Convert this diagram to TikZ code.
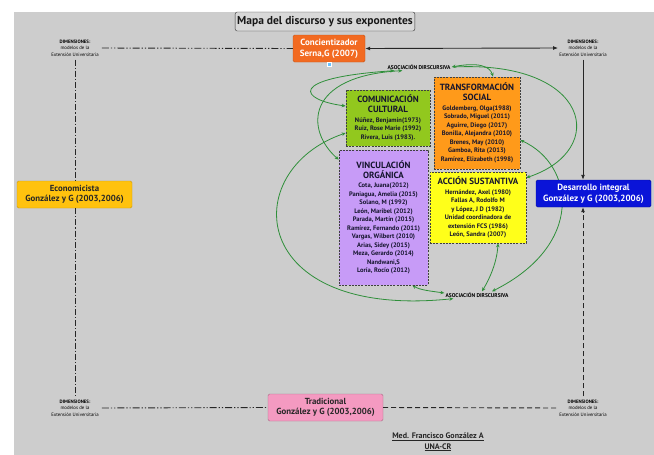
\documentclass[tikz,border=0pt]{standalone}
\usepackage{fontspec}
\setmainfont{PT Sans}
\usetikzlibrary{arrows.meta}
\pgfdeclarelayer{bg}
\pgfsetlayers{bg,main}
\definecolor{bggray}{HTML}{CDCDCD}
\definecolor{titlegray}{HTML}{D8D8D8}
\definecolor{concor}{HTML}{F26A21}
\definecolor{ecoy}{HTML}{FFC20E}
\definecolor{desb}{HTML}{0A14D8}
\definecolor{tradp}{HTML}{F49AC1}
\definecolor{comg}{HTML}{92C81E}
\definecolor{traor}{HTML}{FF9A1A}
\definecolor{vinp}{HTML}{C79BF7}
\definecolor{accy}{HTML}{FFFF1A}
\definecolor{garr}{HTML}{2F8F3A}
\definecolor{navy}{HTML}{15152E}
\newcommand\hdr[1]{{\fontsize{9}{10.5}\selectfont #1}}
\begin{document}
\begin{tikzpicture}[x=1pt,y=-1pt,
  dimlabel/.style={align=center,inner sep=0pt,font=\fontsize{4.8}{6.6}\selectfont,text=black},
  bigbox/.style={minimum width=115pt,minimum height=27pt,inner sep=1pt,align=center,rounded corners=1.5pt,line width=0.4pt,font=\bfseries\fontsize{8.8}{10.5}\selectfont},
  cbox/.style={draw=black!75,dash pattern=on 2pt off 1.2pt,line width=0.6pt,align=center,inner sep=1.5pt,text=navy,font=\bfseries\fontsize{6.5}{8.5}\selectfont},
  blk/.style={line width=0.9pt,draw=black!85},
  dashdotdot/.style={blk,dash pattern=on 7pt off 2pt on 1.2pt off 2pt on 1.2pt off 2pt},
  dashdot/.style={blk,dash pattern=on 6pt off 2pt on 1.2pt off 2pt},
  dsh/.style={blk,dash pattern=on 5pt off 3pt},
  garrow/.style={draw=garr,line width=0.8pt,{Stealth[length=4pt,width=3.5pt]}-{Stealth[length=4pt,width=3.5pt]}},
  garrowone/.style={draw=garr,line width=0.8pt,-{Stealth[length=4pt,width=3.5pt]}},
  asoc/.style={inner sep=1pt,font=\bfseries\fontsize{5.5}{6}\selectfont,text=black},
  btip/.style={-{Latex[length=5pt,width=4pt]}},
  bbtip/.style={{Latex[length=5pt,width=4pt]}-{Latex[length=5pt,width=4pt]}}
]
\useasboundingbox (0,0) rectangle (654,455);
\begin{pgfonlayer}{bg}
\fill[bggray] (14,12) rectangle (654,455);
\end{pgfonlayer}

% title
\node[draw=black!80,fill=titlegray,rounded corners=2pt,minimum width=178pt,minimum height=19pt,inner sep=2pt,font=\bfseries\fontsize{11.5}{14}\selectfont,text=black!90] (title) at (325,21.5) {Mapa del discurso y sus exponentes};

% main model boxes
\node[bigbox,fill=concor,draw=concor!80!black,text=white,minimum width=72pt,font=\bfseries\fontsize{9}{11}\selectfont] (conc) at (329,48.5) {Concientizador\\Serna,G (2007)};
\fill[blue!40!cyan!60,draw=white,line width=0.3pt] (327.5,62) rectangle (331.5,66);
\node[bigbox,fill=ecoy,draw=ecoy!80!black,text=black!85] (eco) at (74.5,194.5) {Economicista\\González y G (2003,2006)};
\node[bigbox,fill=desb,draw=desb!70!black,text=white,font=\bfseries\fontsize{9}{11}\selectfont] (des) at (593.5,193.5) {Desarrollo integral\\González y G (2003,2006)};
\node[bigbox,fill=tradp,draw=tradp!70!black,text=black!85] (trad) at (325.5,407.5) {Tradicional\\González y G (2003,2006)};

% dimension labels
\node[dimlabel] (tl) at (75,48) {\textbf{DIMENSIONES:}\\modelos de la\\Extensión Universitaria};
\node[dimlabel] (tr) at (583,48) {\textbf{DIMENSIONES:}\\modelos de la\\Extensión Universitaria};
\node[dimlabel] (bl) at (75,408) {\textbf{DIMENSIONES:}\\modelos de la\\Extensión Universitaria};
\node[dimlabel] (br) at (583,408) {\textbf{DIMENSIONES:}\\modelos de la\\Extensión Universitaria};

% centre boxes
\node[cbox,fill=comg,minimum width=84pt,minimum height=56pt] (comu) at (388,118) {\hdr{COMUNICACIÓN}\\[1.5pt]\hdr{CULTURAL}\\[1pt]Núñez, Benjamín(1973)\\Ruiz, Rose Marie (1992)\\Rivera, Luis (1983).};
\node[cbox,fill=traor,minimum width=86pt,minimum height=92pt] (transf) at (477,123) {\hdr{TRANSFORMACIÓN}\\[1.5pt]\hdr{SOCIAL}\\[1pt]Goldemberg, Olga(1988)\\Sobrado, Miguel (2011)\\Aguirre, Diego (2017)\\Bonilla, Alejandra (2010)\\Brenes, May (2010)\\Gamboa, Rita (2013)\\Ramírez, Elizabeth (1998)};
\node[cbox,fill=vinp,minimum width=89pt,minimum height=135pt] (vinc) at (383.5,217.5) {\hdr{VINCULACIÓN}\\[1.5pt]\hdr{ORGÁNICA}\\[1pt]Cota, Juana(2012)\\Paniagua, Amelia (2015)\\Solano, M (1992)\\León, Maribel (2012)\\Parada, Martín (2015)\\Ramírez, Fernando (2011)\\Vargas, Wilbert (2010)\\Arias, Sidey (2015)\\Meza, Gerardo (2014)\\Nandwani,S\\Loría, Rocío (2012)};
\node[cbox,fill=accy,minimum width=96pt,minimum height=71pt] (acc) at (478,207.5) {\hdr{ACCIÓN SUSTANTIVA}\\[1pt]Hernández, Axel (1980)\\Fallas A, Rodolfo M\\y López, J D (1982)\\Unidad coordinadora de\\extensión FCS (1986)\\León, Sandra (2007)};

\node[asoc] (as1) at (419,67) {ASOCIACIÓN DIRSCURSIVA};
\node[asoc] (as2) at (477,295) {ASOCIACIÓN DIRSCURSIVA};

\node[align=center,font=\bfseries\fontsize{8}{10.5}\selectfont,text=black!85] (auth) at (438,442) {\underline{Med. Francisco González A}\\\underline{UNA-CR}};

% black connectors
\draw[dashdotdot,shorten <=3pt] (tl.east) -- (conc.west);
\draw[blk,bbtip,shorten >=1pt] (conc.east) -- (tr.west);
\draw[dashdot,shorten <=3pt] (tl.south) -- (tl.south |- eco.north);
\draw[dashdot,shorten >=3pt] (bl.north |- eco.south) -- (bl.north);
\draw[blk,btip,shorten <=3pt] (tr.south) -- (tr.south |- des.north);
\draw[dsh,btip,shorten <=3pt] (br.north) -- (br.north |- des.south);
\draw[dashdotdot,shorten <=3pt] (bl.east) -- (trad.west);
\draw[dsh,shorten >=3pt] (trad.east) -- (br.west);

% green connectors
\begin{pgfonlayer}{bg}
\draw[garrow] ([xshift=8pt]as1.south west) .. controls (285,78) and (300,100) .. ([yshift=12pt]comu.west);
\draw[garrow] ([xshift=16pt]as1.south west) .. controls (305,76) and (305,130) .. ([yshift=-10pt]vinc.north west);
\draw[garrow] ([yshift=-15pt]comu.west) .. controls (237,170) and (247,320) .. ([xshift=9pt]as2.south west);
\draw[garrow] ([xshift=-16pt]vinc.south east) .. controls (420,290) and (430,291) .. ([yshift=2pt]as2.west);
\draw[garrow] (as1.east) .. controls (478,62) and (490,66) .. ([xshift=16pt]transf.north);
\draw[garrowone] ([xshift=2pt]as1.east) .. controls (590,60) and (610,150) .. ([yshift=-6pt]acc.north east);
\draw[garrow] ([yshift=-17pt]transf.east) .. controls (575,165) and (585,245) .. ([xshift=15pt]as2.north);
\draw[garrow] ([xshift=20pt]acc.south) .. controls (497,262) and (490,278) .. ([xshift=5pt]as2.north);
\end{pgfonlayer}
\end{tikzpicture}
\end{document}
